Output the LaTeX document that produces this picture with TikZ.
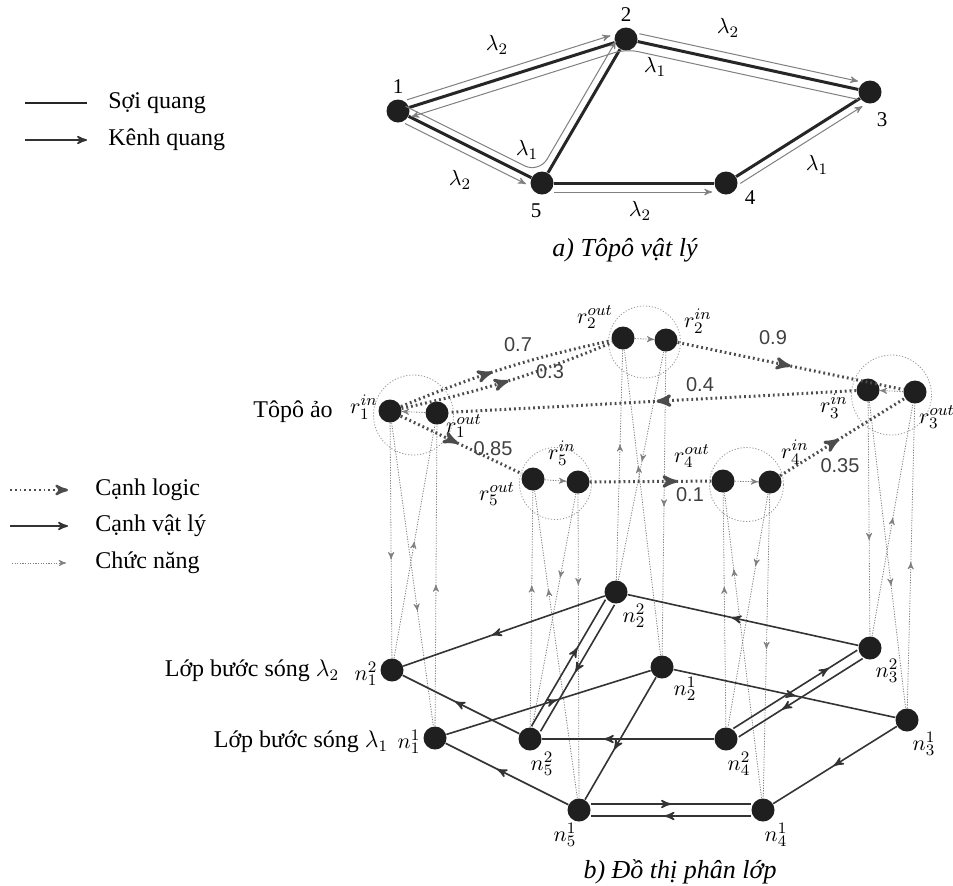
\documentclass[tikz,border=0pt]{standalone}
\usepackage{fontspec}
\setmainfont{Liberation Serif}
\setsansfont{Liberation Sans}
\usetikzlibrary{arrows,calc,decorations.markings}

\begin{document}
\begin{tikzpicture}[x=0.5pt,y=-0.5pt,>=stealth',
    dot node/.style={circle,fill=black!88,inner sep=0pt,minimum size=11.5pt},
    txt/.style={font=\fontsize{12}{14}\selectfont,inner sep=0pt},
    caption txt/.style={font=\fontsize{13}{15}\selectfont\itshape,inner sep=0pt},
    num/.style={font=\fontsize{10.5}{12}\selectfont,inner sep=0pt},
    wt/.style={font=\sffamily\fontsize{10}{12}\selectfont,inner sep=0pt,black!75},
    sym/.style={font=\fontsize{11}{13}\selectfont,inner sep=0pt},
    fiber/.style={line width=1.5pt,black!85},
    channel/.style={->,line width=0.5pt,black!50,shorten >=1pt},
    mid arrow/.style={postaction={decorate},decoration={markings,
        mark=at position #1 with {\pgfsetdash{}{0pt}\arrow{stealth'}}}},
    logic/.style={line width=1.5pt,black!70,dash pattern=on 0.9pt off 1.5pt},
    phys/.style={line width=0.8pt,black!80},
    func/.style={line width=0.4pt,black!50,dash pattern=on 0.6pt off 0.7pt},
    ring/.style={line width=0.4pt,black!40,dash pattern=on 0.6pt off 0.9pt}]

    \fill[white] (0,0) rectangle (953,885);
    \useasboundingbox (0,0) rectangle (953,885);

    \coordinate (fa) at (25,103);
    \coordinate (fb) at (87,103);
    \coordinate (ka) at (25,140);
    \coordinate (kb) at (87,140);
    \draw[fiber,line width=1pt] (fa) -- (fb);
    \draw[->,line width=0.8pt,black!80] (ka) -- (kb);
    \node[txt,anchor=west] (lfiber) at (108,103) {Sợi quang};
    \node[txt,anchor=west] (lchan) at (108,140) {Kênh quang};

    \node[dot node] (t1) at (398,111) {};
    \node[dot node] (t2) at (626,39) {};
    \node[dot node] (t3) at (870,92) {};
    \node[dot node] (t4) at (726,183) {};
    \node[dot node] (t5) at (542,183) {};
    \node[num] (l1) at (398,87) {1};
    \node[num] (l2) at (626,15) {2};
    \node[num] (l3) at (882,120) {3};
    \node[num] (l4) at (750,198) {4};
    \node[num] (l5) at (536,211) {5};

    \path[fiber]
    (t1) edge (t2)
        edge (t5)
    (t2) edge (t3)
        edge (t5)
    (t5) edge (t4)
    (t4) edge (t3);

    \draw[channel,transform canvas={shift={(-1.2pt,3.8pt)}}] (t1) -- (t2);
    \draw[channel,rounded corners=6pt,transform canvas={shift={(0pt,-5pt)}}] (t3) -- (t2.center) -- (t1);
    \draw[channel,transform canvas={shift={(0.85pt,3.9pt)}}] (t2) -- (t3);
    \draw[channel,rounded corners=8pt,transform canvas={shift={(-1.5pt,5pt)}}] (t1) -- (t5.center) -- (t2);
    \draw[channel,transform canvas={shift={(-1.8pt,-3.6pt)}}] (t1) -- (t5);
    \draw[channel,transform canvas={shift={(0pt,-4.5pt)}}] (t5) -- (t4);
    \draw[channel,transform canvas={shift={(2.1pt,-3.4pt)}}] (t4) -- (t3);

    \node[sym] (w12) at (497,45) {$\lambda_2$};
    \node[sym] (w23) at (728,28) {$\lambda_2$};
    \node[sym] (w21) at (655,67) {$\lambda_1$};
    \node[sym] (w52) at (527,150) {$\lambda_1$};
    \node[sym] (w15) at (460,180) {$\lambda_2$};
    \node[sym] (w54) at (640,211) {$\lambda_2$};
    \node[sym] (w43) at (817,165) {$\lambda_1$};
    \node[caption txt] (capa) at (625,250) {a) Tôpô vật lý};

    \coordinate (ga) at (10,490);
    \coordinate (gb) at (68,490);
    \coordinate (pa) at (10,526);
    \coordinate (pb) at (68,526);
    \coordinate (ca) at (12,563);
    \coordinate (cb) at (66,563);
    \draw[logic,line width=1.2pt,->] (ga) -- (gb);
    \draw[phys,->] (pa) -- (pb);
    \draw[func,->] (ca) -- (cb);
    \node[txt,anchor=west] (llogic) at (95,490) {Cạnh logic};
    \node[txt,anchor=west] (lphys) at (95,526) {Cạnh vật lý};
    \node[txt,anchor=west] (lfunc) at (95,563) {Chức năng};

    \node[txt] (lvirt) at (293,412) {Tôpô ảo};
    \node[txt] (llay2) at (252,671) {Lớp bước sóng $\lambda_2$};
    \node[txt] (llay1) at (301,742) {Lớp bước sóng $\lambda_1$};

    \node[dot node] (r1i) at (390,411) {};
    \node[dot node] (r1o) at (437,413) {};
    \node[dot node] (r2o) at (623,338) {};
    \node[dot node] (r2i) at (666,340) {};
    \node[dot node] (r3i) at (868,390) {};
    \node[dot node] (r3o) at (915,392) {};
    \node[dot node] (r5o) at (533,479) {};
    \node[dot node] (r5i) at (578,482) {};
    \node[dot node] (r4o) at (723,481) {};
    \node[dot node] (r4i) at (770,482) {};

    \draw[ring] ($(r1i)!.5!(r1o)+(0,3)$) circle (20pt);
    \draw[ring] ($(r2o)!.5!(r2i)+(0,3)$) circle (18pt);
    \draw[ring] ($(r3i)!.5!(r3o)+(0,4)$) circle (20pt);
    \draw[ring] ($(r5o)!.5!(r5i)+(0,3)$) circle (18pt);
    \draw[ring] ($(r4o)!.5!(r4i)+(0,3)$) circle (18.5pt);

    \node[sym] (lr1i) at (364,407) {$r_1^{in}$};
    \node[sym] (lr1o) at (464,426) {$r_1^{out}$};
    \node[sym] (lr2o) at (595,317) {$r_2^{out}$};
    \node[sym] (lr2i) at (698,321) {$r_2^{in}$};
    \node[sym] (lr3i) at (834,406) {$r_3^{in}$};
    \node[sym] (lr3o) at (937,417) {$r_3^{out}$};
    \node[sym] (lr5i) at (562,453) {$r_5^{in}$};
    \node[sym] (lr5o) at (497,494) {$r_5^{out}$};
    \node[sym] (lr4o) at (692,456) {$r_4^{out}$};
    \node[sym] (lr4i) at (795,452) {$r_4^{in}$};

    \node[dot node] (n22) at (616,592) {};
    \node[dot node] (n12) at (392,670) {};
    \node[dot node] (n21) at (662,667) {};
    \node[dot node] (n32) at (870,648) {};
    \node[dot node] (n11) at (435,738) {};
    \node[dot node] (n52) at (530,739) {};
    \node[dot node] (n42) at (726,739) {};
    \node[dot node] (n31) at (907,720) {};
    \node[dot node] (n51) at (579,810) {};
    \node[dot node] (n41) at (763,810) {};

    \node[sym] (ln22) at (634,616) {$n_2^2$};
    \node[sym] (ln12) at (366,674) {$n_1^2$};
    \node[sym] (ln21) at (685,689) {$n_2^1$};
    \node[sym] (ln32) at (887,671) {$n_3^2$};
    \node[sym] (ln11) at (409,742) {$n_1^1$};
    \node[sym] (ln52) at (542,764) {$n_5^2$};
    \node[sym] (ln42) at (739,764) {$n_4^2$};
    \node[sym] (ln31) at (924,744) {$n_3^1$};
    \node[sym] (ln51) at (565,835) {$n_5^1$};
    \node[sym] (ln41) at (776,835) {$n_4^1$};

    \path[func]
    (r1o) edge[->] (r1i)
    (r2o) edge[->] (r2i)
    (r3o) edge[->] (r3i)
    (r5o) edge[->] (r5i)
    (r4o) edge[->] (r4i)
    (r1i) edge[mid arrow=.58] (n12)
        edge[mid arrow=.62] (n11)
    (n12) edge[mid arrow=.5] (r1o)
    (n11) edge[mid arrow=.47] (r1o)
    (r2i) edge[mid arrow=.51] (n21)
        edge[mid arrow=.48] (n22)
    (n22) edge[mid arrow=.59] (r2o)
    (n21) edge[mid arrow=.62] (r2o)
    (r3i) edge[mid arrow=.59] (n32)
        edge[mid arrow=.6] (n31)
    (n32) edge[mid arrow=.51] (r3o)
    (n31) edge[mid arrow=.48] (r3o)
    (r5i) edge[mid arrow=.36] (n52)
        edge[mid arrow=.3] (n51)
    (n52) edge[mid arrow=.6] (r5o)
    (n51) edge[mid arrow=.68] (r5o)
    (r4i) edge[mid arrow=.31] (n42)
        edge[mid arrow=.51] (n41)
    (n42) edge[mid arrow=.6] (r4o)
    (n41) edge[mid arrow=.75] (r4o);

    \path[logic]
    (r1i) edge[bend left=5,mid arrow=.44] (r2o)
        edge[bend right=5,mid arrow=.5] (r2o)
        edge[mid arrow=.47] (r5o)
    (r2i) edge[mid arrow=.5] (r3o)
    (r3i) edge[mid arrow=.49] (r1o)
    (r5i) edge[mid arrow=.72] (r4o)
    (r4i) edge[mid arrow=.47] (r3o);

    \node[wt] (e07) at (518,345) {0.7};
    \node[wt] (e03) at (550,372) {0.3};
    \node[wt] (e09) at (773,338) {0.9};
    \node[wt] (e04) at (700,385) {0.4};
    \node[wt] (e085) at (493,449) {0.85};
    \node[wt] (e01) at (690,495) {0.1};
    \node[wt] (e035) at (840,466) {0.35};

    \path[phys]
    (n22) edge[mid arrow=.56] (n12)
    (n32) edge[mid arrow=.55] (n22)
    (n52) edge[mid arrow=.55] (n12)
    (n42) edge[mid arrow=.64] (n52)
    (n11) edge[mid arrow=.54] (n21)
    (n21) edge[mid arrow=.55] (n31)
        edge[mid arrow=.59] (n51)
    (n51) edge[mid arrow=.58] (n11)
    (n31) edge[mid arrow=.51] (n41);
    \draw[phys,mid arrow=.62,transform canvas={shift={(-2.25pt,1.3pt)}}] (n52) -- (n22);
    \draw[phys,mid arrow=.53,transform canvas={shift={(2.25pt,-1.3pt)}}] (n22) -- (n52);
    \draw[phys,mid arrow=.77,transform canvas={shift={(-1.35pt,2.1pt)}}] (n42) -- (n32);
    \draw[phys,mid arrow=.65,transform canvas={shift={(1.35pt,-2.1pt)}}] (n32) -- (n42);
    \draw[phys,mid arrow=.5,transform canvas={shift={(0pt,3pt)}}] (n51) -- (n41);
    \draw[phys,mid arrow=.54,transform canvas={shift={(0pt,-3pt)}}] (n41) -- (n51);

    \node[caption txt] (capb) at (680,872) {b) Đồ thị phân lớp};
\end{tikzpicture}
\end{document}
